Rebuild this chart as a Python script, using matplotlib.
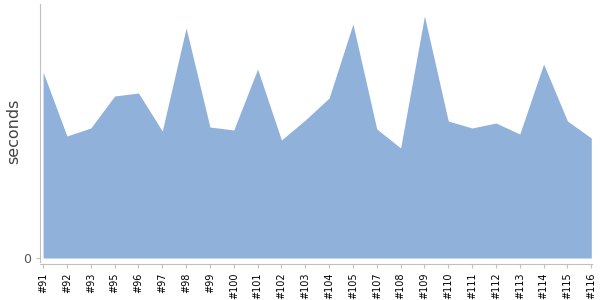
import matplotlib
matplotlib.use("Agg")
import matplotlib.pyplot as plt
import numpy as np

builds = ["#91", "#92", "#93", "#95", "#96", "#97", "#98", "#99", "#100", "#101",
          "#102", "#103", "#104", "#105", "#107", "#108", "#109", "#110", "#111",
          "#112", "#113", "#114", "#115", "#116"]
seconds = [186, 122, 130, 162, 165, 127, 230, 131, 128, 189,
           118, 138, 160, 234, 129, 110, 242, 137, 130,
           135, 124, 194, 137, 120]

fig = plt.figure(figsize=(6, 3), dpi=100)
ax = fig.add_axes([40 / 600, 1 - 258 / 300, 552 / 600, 254 / 300])

x = np.arange(len(builds))
ax.fill_between(x, 0, seconds, color="#8fb1da", linewidth=0)

ax.set_xlim(-0.13, len(builds) - 1 + 0.03)
ax.set_ylim(0, 254)

for side in ["top", "right"]:
    ax.spines[side].set_visible(False)
ax.spines["left"].set_color("#c0c0c0")
ax.spines["bottom"].set_color("#c0c0c0")
ax.spines["bottom"].set_position(("outward", 4))
ax.spines["left"].set_bounds(-4, 254)

ax.set_yticks([0])
ax.set_yticklabels(["0"], color="#555555", fontsize=9)
ax.set_xticks(x)
ax.set_xticklabels(builds, rotation=90, fontsize=7, color="black")
ax.tick_params(axis="both", color="#c0c0c0", length=3)
ax.set_ylabel("seconds", fontsize=11.5, color="#444444", labelpad=1)

fig.savefig("out.png", dpi=100)
